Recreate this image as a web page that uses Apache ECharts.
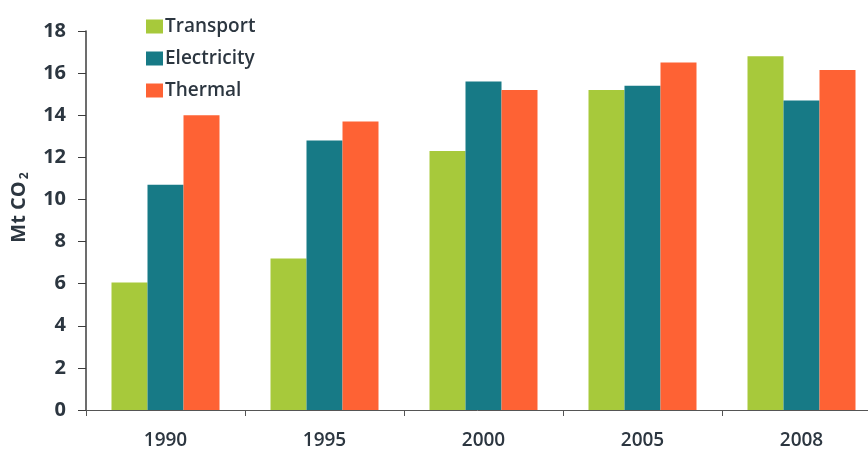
<!DOCTYPE html>
<html>
<head>
<meta charset="utf-8">
<script src="https://cdn.jsdelivr.net/npm/echarts@6/dist/echarts.min.js"></script>
<style>
  html, body { margin: 0; padding: 0; background: #ffffff; }
  #chart { width: 868px; height: 452px; }
</style>
</head>
<body>
<div id="chart"></div>
<script>
// CO2 emissions by sector (Mt CO2)
const years = ['1990', '1995', '2000', '2005', '2008'];
const transport = [6.05, 7.2, 12.3, 15.2, 16.8];
const electricity = [10.7, 12.8, 15.6, 15.4, 14.7];
const thermal = [14.0, 13.7, 15.2, 16.5, 16.15];
const yTicks = { min: 0, max: 18, step: 2 };

const textColor = '#2c3640';
const axisColor = '#3c3c3c';
const fontFamily = '"Open Sans", "DejaVu Sans", sans-serif';

const chart = echarts.init(document.getElementById('chart'));

function barSeries(name, data, color) {
  return {
    name: name,
    type: 'bar',
    data: data,
    barWidth: 36,
    barGap: '0%',
    itemStyle: { color: color },
    emphasis: { disabled: true }
  };
}

chart.setOption({
  animation: false,
  backgroundColor: '#ffffff',
  textStyle: { fontFamily: fontFamily },
  legend: {
    orient: 'vertical',
    left: 141,
    top: 12,
    itemWidth: 17,
    itemHeight: 14,
    itemGap: 13,
    icon: 'rect',
    textStyle: { fontFamily: fontFamily, fontSize: 19, fontWeight: 600, color: textColor, padding: [0, 0, 0, -3] },
    data: ['Transport', 'Electricity', 'Thermal']
  },
  grid: { left: 86, top: 31, bottom: 42, width: 795, containLabel: false, outerBoundsMode: 'none' },
  xAxis: {
    type: 'category',
    data: years,
    axisLine: { show: true, lineStyle: { color: '#555', width: 1 } },
    axisTick: { show: true, alignWithLabel: false, length: 6, lineStyle: { color: '#555' } },
    axisLabel: { color: textColor, fontSize: 19, fontWeight: 600, margin: 21, fontFamily: fontFamily }
  },
  yAxis: {
    type: 'value',
    min: yTicks.min,
    max: yTicks.max,
    interval: yTicks.step,
    name: '{a|Mt CO}{b|2}',
    nameLocation: 'middle',
    nameRotate: 90,
    nameGap: 52,
    nameTextStyle: {
      padding: [0, 0, 0, 26],
      rich: {
        a: { fontSize: 20, fontWeight: 700, color: textColor, fontFamily: fontFamily, lineHeight: 26, verticalAlign: 'middle' },
        b: { fontSize: 12, fontWeight: 700, color: textColor, fontFamily: fontFamily, lineHeight: 12, verticalAlign: 'bottom', padding: [0, 0, 2, 2] }
      }
    },
    axisLine: { show: true, lineStyle: { color: axisColor, width: 1.5 } },
    axisTick: { show: true, length: 8, lineStyle: { color: axisColor } },
    splitLine: { show: false },
    axisLabel: { color: textColor, fontSize: 20, fontWeight: 700, margin: 20, fontFamily: fontFamily }
  },
  series: [
    barSeries('Transport', transport, '#a7c93b'),
    barSeries('Electricity', electricity, '#177a86'),
    barSeries('Thermal', thermal, '#fe6234')
  ]
});
</script>
</body>
</html>
